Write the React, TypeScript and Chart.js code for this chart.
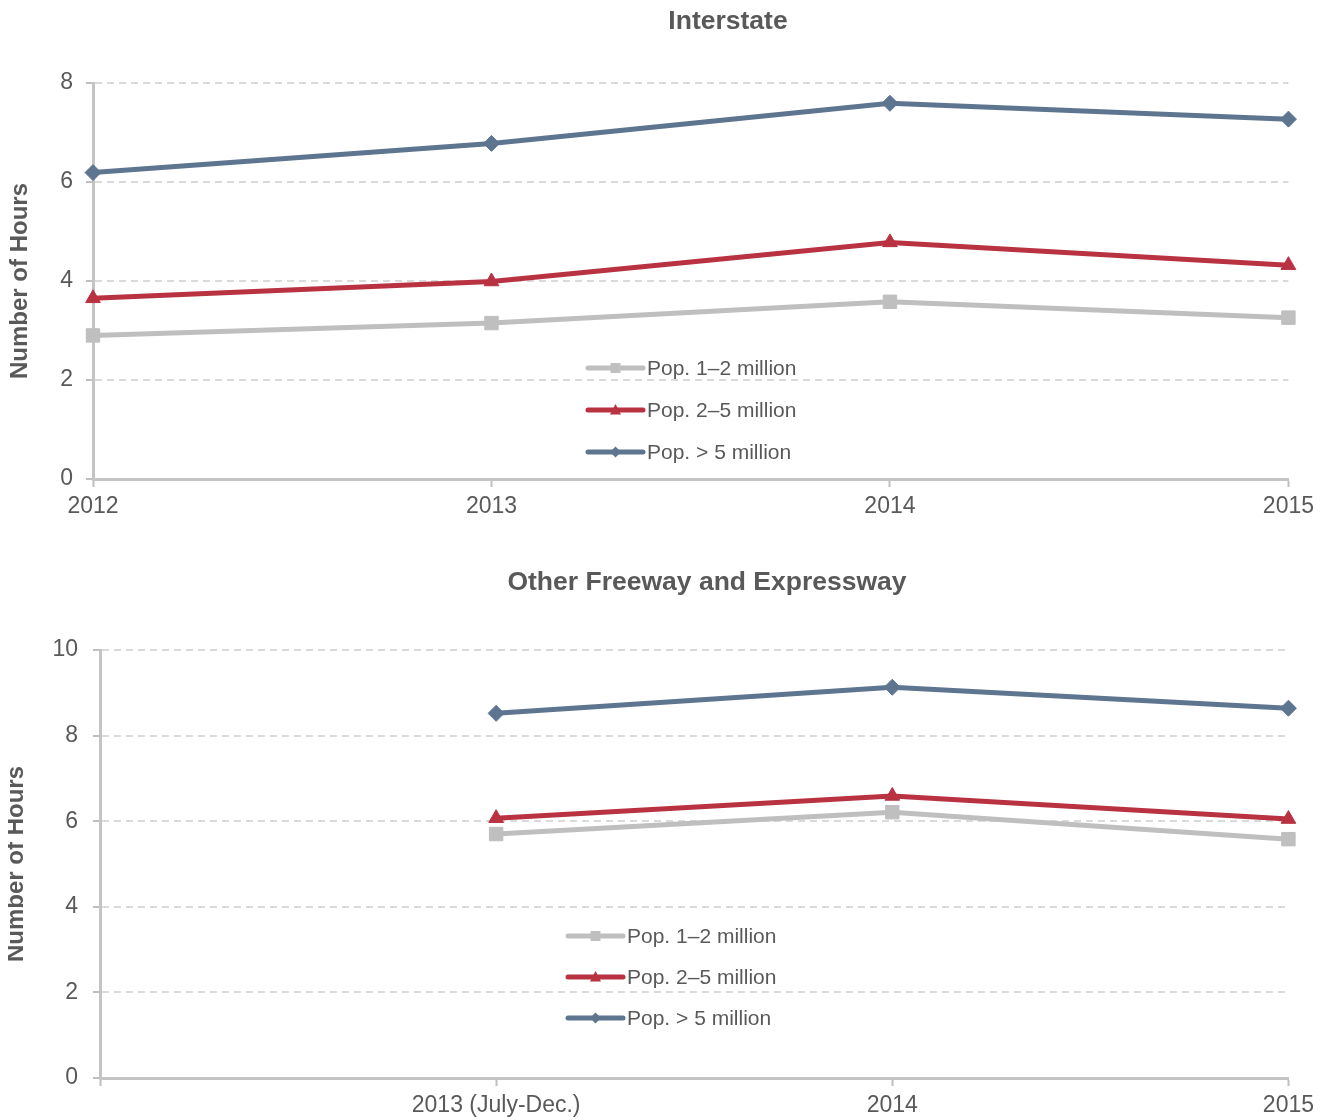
import React, { useEffect, useRef } from 'react';
import { Chart, registerables } from 'chart.js';

Chart.register(...registerables);

const FONT = '"Liberation Sans", Arial, Helvetica, sans-serif';
const TEXT = '#595959';

// Series definitions
const seriesNames = ['Pop. 1–2 million', 'Pop. 2–5 million', 'Pop. > 5 million'];
const seriesColors = ['#bfbfbf', '#b93242', '#5e7590'];
const seriesPointStyles = ['rect', 'triangle', 'rectRot'];
const seriesPointRadius = [9.5, 8.5, 8];

// Interstate chart data
const interstateTitle = 'Interstate';
const interstateYears = ['2012', '2013', '2014', '2015'];
const interstatePop1to2 = [2.9, 3.15, 3.58, 3.26];
const interstatePop2to5 = [3.65, 3.99, 4.78, 4.32];
const interstatePopOver5 = [6.19, 6.78, 7.59, 7.27];
const interstateYMax = 8;

// Other Freeway and Expressway chart data
const freewayTitle = 'Other Freeway and Expressway';
const freewayPeriods = ['', '2013 (July-Dec.)', '2014', '2015'];
const freewayPop1to2 = [null, 5.7, 6.21, 5.58];
const freewayPop2to5 = [null, 6.07, 6.59, 6.05];
const freewayPopOver5 = [null, 8.52, 9.13, 8.64];
const freewayYMax = 10;

const yStep = 2;
const yAxisTitle = 'Number of Hours';

function drawMarker(ctx: CanvasRenderingContext2D, style: string, x: number, y: number, s: number) {
  ctx.beginPath();
  if (style === 'rect') {
    ctx.rect(x - s / 2, y - s / 2, s, s);
  } else if (style === 'triangle') {
    ctx.moveTo(x, y - s * 0.55);
    ctx.lineTo(x + s / 2, y + s * 0.4);
    ctx.lineTo(x - s / 2, y + s * 0.4);
    ctx.closePath();
  } else {
    ctx.moveTo(x, y - s / 2);
    ctx.lineTo(x + s / 2, y);
    ctx.lineTo(x, y + s / 2);
    ctx.lineTo(x - s / 2, y);
    ctx.closePath();
  }
  ctx.fill();
}

const insideLegend = {
  id: 'insideLegend',
  afterDraw(chart: any, _args: any, opts: any) {
    const ctx: CanvasRenderingContext2D = chart.ctx;
    const { x, y, gap, lineLen } = opts;
    chart.data.datasets.forEach((ds: any, i: number) => {
      const cy = y + i * gap;
      ctx.save();
      ctx.strokeStyle = ds.borderColor;
      ctx.lineWidth = 5;
      ctx.lineCap = 'round';
      ctx.beginPath();
      ctx.moveTo(x, cy);
      ctx.lineTo(x + lineLen, cy);
      ctx.stroke();
      ctx.fillStyle = ds.borderColor;
      const sz = ds.pointStyle === 'rect' ? 10 : 11;
      drawMarker(ctx, ds.pointStyle, x + lineLen / 2, cy, sz);
      ctx.fillStyle = TEXT;
      ctx.font = `21px ${FONT}`;
      ctx.textBaseline = 'middle';
      ctx.textAlign = 'left';
      ctx.fillText(ds.label, x + lineLen + 4, cy + 1);
      ctx.restore();
    });
  },
};

const heading = {
  id: 'heading',
  afterDraw(chart: any, _args: any, opts: any) {
    const ctx: CanvasRenderingContext2D = chart.ctx;
    ctx.save();
    ctx.fillStyle = TEXT;
    ctx.font = `bold ${opts.size}px ${FONT}`;
    ctx.textAlign = 'center';
    ctx.textBaseline = 'middle';
    ctx.fillText(opts.text, opts.x, opts.y);
    ctx.restore();
  },
};

type Cfg = {
  width: number;
  height: number;
  title: string;
  titleX: number;
  titleY: number;
  padTop: number;
  labels: string[];
  series: (number | null)[][];
  yMax: number;
  yWidth: number;
  yTitlePad: number;
  yTickPad: number;
  padBottom: number;
  legend: { x: number; y: number; gap: number; lineLen: number };
};

function buildConfig(cfg: Cfg): any {
  return {
    type: 'line',
    data: {
      labels: cfg.labels,
      datasets: cfg.series.map((d, i) => ({
        label: seriesNames[i],
        data: d,
        borderColor: seriesColors[i],
        backgroundColor: seriesColors[i],
        borderWidth: 5,
        pointStyle: seriesPointStyles[i],
        pointRadius: seriesPointRadius[i],
        pointBackgroundColor: seriesColors[i],
        pointBorderColor: seriesColors[i],
        pointBorderWidth: 1,
        tension: 0,
        clip: false,
        spanGaps: false,
      })),
    },
    options: {
      animation: false,
      responsive: false,
      layout: { padding: { left: 0, right: 30, top: cfg.padTop, bottom: cfg.padBottom } },
      plugins: {
        legend: { display: false },
        tooltip: { enabled: false },
        title: { display: false },
        heading: { text: cfg.title, x: cfg.titleX, y: cfg.titleY, size: 26.5 },
        insideLegend: cfg.legend,
      },
      scales: {
        x: {
          type: 'category',
          offset: false,
          grid: {
            display: true,
            drawOnChartArea: false,
            drawTicks: true,
            tickLength: 8,
            tickColor: '#bfbfbf',
            tickWidth: 2,
            color: '#bfbfbf',
          },
          border: { display: true, color: '#c4c4c4', width: 3 },
          ticks: {
            color: TEXT,
            font: { family: FONT, size: 23 },
            padding: 6,
            maxRotation: 0,
            autoSkip: false,
          },
          afterFit: (s: any) => {
            s.height = 40;
          },
        },
        y: {
          min: 0,
          max: cfg.yMax,
          ticks: {
            stepSize: yStep,
            color: TEXT,
            font: { family: FONT, size: 23 },
            padding: cfg.yTickPad,
          },
          grid: {
            color: '#dadada',
            lineWidth: 2,
            drawTicks: true,
            tickLength: 7,
            tickColor: '#bfbfbf',
            tickWidth: 2,
          },
          border: { display: true, color: '#c4c4c4', width: 3, dash: [7, 5] },
          title: {
            display: true,
            text: yAxisTitle,
            color: TEXT,
            font: { family: FONT, size: 24, weight: 'bold' },
            padding: { top: cfg.yTitlePad, bottom: 0 },
          },
          afterFit: (s: any) => {
            s.width = cfg.yWidth;
          },
        },
      },
    },
    plugins: [insideLegend, heading],
  };
}

function LineChart({ cfg }: { cfg: Cfg }) {
  const ref = useRef<HTMLCanvasElement>(null);
  useEffect(() => {
    const chart = new Chart(ref.current as HTMLCanvasElement, buildConfig(cfg));
    return () => chart.destroy();
  }, []);
  return (
    <canvas
      ref={ref}
      width={cfg.width}
      height={cfg.height}
      style={{ display: 'block', width: cfg.width, height: cfg.height }}
    />
  );
}

const topCfg: Cfg = {
  width: 1312,
  height: 540,
  title: interstateTitle,
  titleX: 720,
  titleY: 14,
  padTop: 75,
  labels: interstateYears,
  series: [interstatePop1to2, interstatePop2to5, interstatePopOver5],
  yMax: interstateYMax,
  yWidth: 85,
  yTitlePad: -2,
  yTickPad: 13,
  padBottom: 29,
  legend: { x: 580, y: 360, gap: 42, lineLen: 55 },
};

const bottomCfg: Cfg = {
  width: 1312,
  height: 572,
  title: freewayTitle,
  titleX: 699,
  titleY: 35,
  padTop: 102,
  labels: freewayPeriods,
  series: [freewayPop1to2, freewayPop2to5, freewayPopOver5],
  yMax: freewayYMax,
  yWidth: 92,
  yTitlePad: -6,
  yTickPad: 15,
  padBottom: 2,
  legend: { x: 560, y: 388, gap: 41, lineLen: 55 },
};

export default function App() {
  return (
    <div style={{ width: 1312 }}>
      <LineChart cfg={topCfg} />
      <LineChart cfg={bottomCfg} />
    </div>
  );
}
